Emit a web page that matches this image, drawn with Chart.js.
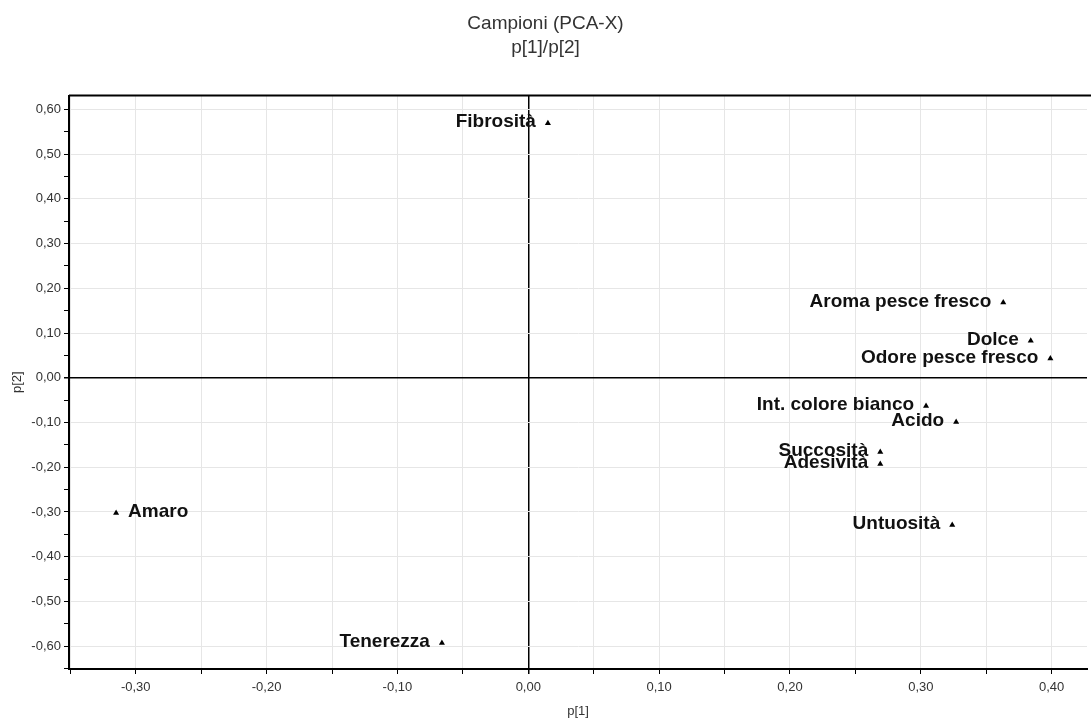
<!DOCTYPE html>
<html>
<head>
<meta charset="utf-8">
<script src="https://cdn.jsdelivr.net/npm/chart.js@4/dist/chart.umd.min.js"></script>
<style>
  html, body { margin: 0; padding: 0; background: #fff; }
  #wrap { width: 1091px; height: 719px; }
</style>
</head>
<body>
<div id="wrap"><canvas id="pcaChart"></canvas></div>
<script>
let names = ["Fibrosità", "Aroma pesce fresco", "Dolce", "Odore pesce fresco", "Int. colore bianco",
  "Acido", "Succosità", "Adesività", "Untuosità", "Amaro", "Tenerezza"];
let p1 = [0.015, 0.363, 0.384, 0.399, 0.304, 0.327, 0.269, 0.269, 0.324, -0.315, -0.066];
let p2 = [0.569, 0.168, 0.083, 0.043, -0.063, -0.099, -0.166, -0.193, -0.329, -0.302, -0.593];
// labels that sit on the right of their point
let rightSide = ["Amaro"];

let xTicks = [-0.35, -0.30, -0.25, -0.20, -0.15, -0.10, -0.05, 0, 0.05, 0.10, 0.15, 0.20, 0.25, 0.30, 0.35, 0.40];
let yTicks = [-0.65, -0.60, -0.55, -0.50, -0.45, -0.40, -0.35, -0.30, -0.25, -0.20, -0.15, -0.10, -0.05, 0,
  0.05, 0.10, 0.15, 0.20, 0.25, 0.30, 0.35, 0.40, 0.45, 0.50, 0.55, 0.60];

const FONT = "'Liberation Sans', Arial, sans-serif";
const isMajor = (v) => Math.abs(Math.round(v * 20)) % 2 === 0;
const fmt = (v) => v.toFixed(2).replace(".", ",");

const pointLabels = {
  id: "pointLabels",
  afterDatasetsDraw(chart) {
    const c = chart.ctx;
    const meta = chart.getDatasetMeta(0);
    c.save();
    c.font = "bold 19px " + FONT;
    c.fillStyle = "#111";
    c.textBaseline = "middle";
    meta.data.forEach((pt, i) => {
      if (rightSide.includes(names[i])) {
        c.textAlign = "left";
        c.fillText(names[i], pt.x + 12, pt.y - 1);
      } else {
        c.textAlign = "right";
        c.fillText(names[i], pt.x - 12, pt.y - 1);
      }
    });
    c.restore();
  },
};

const topBorder = {
  id: "topBorder",
  afterDraw(chart) {
    const a = chart.chartArea;
    const c = chart.ctx;
    c.save();
    c.strokeStyle = "#000";
    c.lineWidth = 2;
    c.beginPath();
    c.moveTo(a.left, a.top);
    c.lineTo(a.right + 4, a.top);
    c.stroke();
    c.restore();
  },
};

let ctx = document.getElementById("pcaChart").getContext("2d");

let myChart = new Chart(ctx, {
  type: "scatter",
  data: {
    datasets: [
      {
        data: p1.map((x, i) => ({ x: x, y: p2[i] })),
        backgroundColor: "#000",
        borderColor: "#000",
        pointStyle: "triangle",
        pointRadius: 3.5,
        borderWidth: 0,
      },
    ],
  },
  options: {
    responsive: true,
    maintainAspectRatio: false,
    animation: false,
    layout: { padding: { left: 0, right: 0, top: 0, bottom: 0 } },
    plugins: {
      legend: { display: false },
      tooltip: { enabled: false },
      title: {
        display: true,
        text: ["Campioni (PCA-X)", "p[1]/p[2]"],
        color: "#333",
        font: { family: FONT, size: 19, weight: "normal", lineHeight: 1.25 },
        padding: { top: 12, bottom: 36 },
      },
    },
    scales: {
      x: {
        type: "linear",
        min: -0.351,
        max: 0.427,
        afterBuildTicks: (scale) => {
          scale.ticks = xTicks.map((v) => ({ value: v }));
        },
        afterFit: (scale) => {
          scale.height = 50;
        },
        ticks: {
          autoSkip: false,
          maxRotation: 0,
          color: "#333",
          padding: 6,
          font: { family: FONT, size: 13 },
          callback: (v) => (isMajor(v) ? fmt(v) : ""),
        },
        grid: {
          color: (c) => (c.tick && c.tick.value === 0 ? "#000" : "#e6e6e6"),
          lineWidth: (c) => (c.tick && c.tick.value === 0 ? 1.5 : 1),
          tickColor: "#000",
          tickLength: 5,
        },
        border: { color: "#000", width: 2 },
        title: {
          display: true,
          text: "p[1]",
          color: "#333",
          font: { family: FONT, size: 13 },
          padding: { top: 0, bottom: 0 },
        },
      },
      y: {
        type: "linear",
        min: -0.651,
        max: 0.631,
        afterBuildTicks: (scale) => {
          scale.ticks = yTicks.map((v) => ({ value: v }));
        },
        afterFit: (scale) => {
          scale.width = 69;
        },
        ticks: {
          autoSkip: false,
          color: "#333",
          padding: 3,
          font: { family: FONT, size: 13 },
          callback: (v) => (isMajor(v) ? fmt(v) : ""),
        },
        grid: {
          color: (c) => {
            if (!c.tick) return "rgba(0,0,0,0)";
            if (c.tick.value === 0) return "#000";
            return isMajor(c.tick.value) ? "#e6e6e6" : "rgba(0,0,0,0)";
          },
          lineWidth: (c) => (c.tick && c.tick.value === 0 ? 1.5 : 1),
          tickColor: "#000",
          tickLength: 5,
        },
        border: { color: "#000", width: 2 },
        title: {
          display: true,
          text: "p[2]",
          color: "#333",
          font: { family: FONT, size: 13 },
          padding: { top: 10, bottom: 0 },
        },
      },
    },
  },
  plugins: [pointLabels, topBorder],
});
</script>
</body>
</html>
